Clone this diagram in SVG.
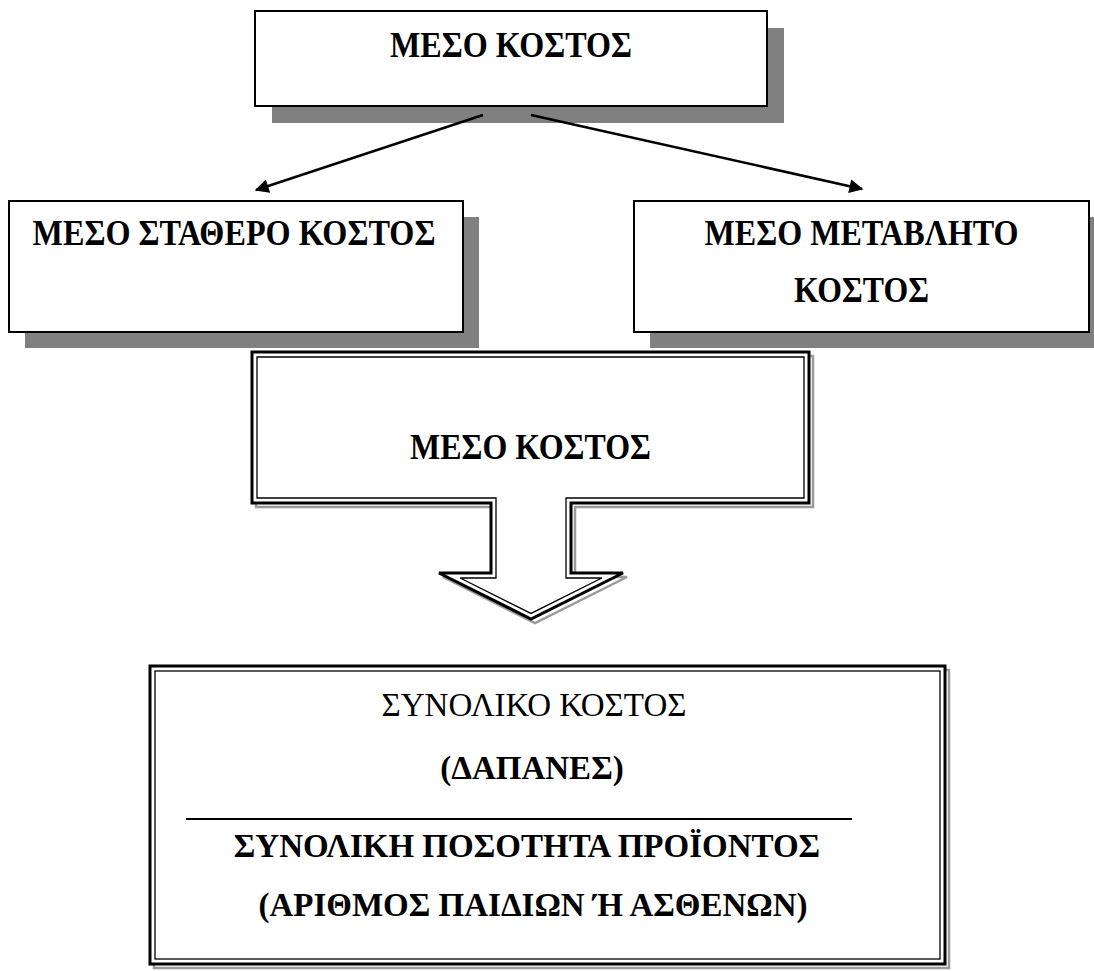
<svg xmlns="http://www.w3.org/2000/svg" width="1094" height="971" viewBox="0 0 1094 971">
  <style>
    .shadow { fill: #808080; }
    .box { fill: #ffffff; stroke: #000000; stroke-width: 2; }
    .lbl { font-family: "Liberation Serif", "Times New Roman", serif; font-size: 35px; font-weight: bold; fill: #000000; text-anchor: middle; }
    .small { font-size: 33px; }
    .plain { font-weight: normal; }
    .conn { stroke: #000000; stroke-width: 2.5; fill: none; }
    .dbl-shadow { fill: none; stroke: #9a9a9a; stroke-width: 2.5; }
    .dbl-outer { fill: #ffffff; stroke: #000000; stroke-width: 3; }
    .dbl-inner { fill: none; stroke: #000000; stroke-width: 1.3; }
  </style>
  <defs>
    <marker id="head" viewBox="0 0 10 10" refX="9" refY="5" markerWidth="18" markerHeight="14" markerUnits="userSpaceOnUse" orient="auto">
      <path d="M0 0 L10 5 L0 10 Z" fill="#000000"/>
    </marker>
  </defs>

  <rect width="1094" height="971" fill="#ffffff"/>

  <!-- top node -->
  <g id="avg-cost-top">
    <rect class="shadow" x="272" y="28" width="512" height="95"/>
    <rect class="box" x="255" y="11" width="512" height="95"/>
    <text class="lbl" x="511" y="57" textLength="242" lengthAdjust="spacingAndGlyphs">ΜΕΣΟ ΚΟΣΤΟΣ</text>
  </g>

  <!-- left node -->
  <g id="avg-fixed-cost">
    <rect class="shadow" x="25" y="217" width="454" height="131"/>
    <rect class="box" x="9" y="201" width="454" height="131"/>
    <text class="lbl" x="234" y="245" textLength="403" lengthAdjust="spacingAndGlyphs">ΜΕΣΟ ΣΤΑΘΕΡΟ ΚΟΣΤΟΣ</text>
  </g>

  <!-- right node -->
  <g id="avg-variable-cost">
    <rect class="shadow" x="650" y="217" width="455" height="131"/>
    <rect class="box" x="634" y="201" width="455" height="131"/>
    <text class="lbl" x="861.5" y="245" textLength="314" lengthAdjust="spacingAndGlyphs">ΜΕΣΟ ΜΕΤΑΒΛΗΤΟ</text>
    <text class="lbl" x="861.5" y="302" textLength="135" lengthAdjust="spacingAndGlyphs">ΚΟΣΤΟΣ</text>
  </g>

  <!-- connectors -->
  <g id="connectors">
    <line class="conn" x1="483" y1="115" x2="256" y2="190" marker-end="url(#head)"/>
    <line class="conn" x1="531" y1="115" x2="862" y2="189" marker-end="url(#head)"/>
  </g>

  <!-- block arrow callout -->
  <g id="avg-cost-arrow">
    <path class="dbl-shadow" transform="translate(4,4)" d="M252 352 H809 V503 H571 V573 H623 L531 619 L439 573 H491 V503 H252 Z"/>
    <path class="dbl-outer" d="M252 352 H809 V503 H571 V573 H623 L531 619 L439 573 H491 V503 H252 Z"/>
    <path class="dbl-inner" d="M257 357 H804 V498 H566 V578 H601.8 L531 613.4 L460.2 578 H496 V498 H257 Z"/>
    <text class="lbl" x="530.5" y="459" textLength="241" lengthAdjust="spacingAndGlyphs">ΜΕΣΟ ΚΟΣΤΟΣ</text>
  </g>

  <!-- formula box -->
  <g id="avg-cost-formula">
    <rect class="dbl-shadow" x="154" y="670" width="795" height="298"/>
    <rect class="dbl-outer" x="150" y="666" width="795" height="298"/>
    <rect class="dbl-inner" x="155" y="671" width="785" height="288"/>
    <text class="lbl small plain" x="534" y="716">ΣΥΝΟΛΙΚΟ ΚΟΣΤΟΣ</text>
    <text class="lbl small" x="532" y="779">(ΔΑΠΑΝΕΣ)</text>
    <line x1="186" y1="819" x2="852" y2="819" stroke="#000000" stroke-width="2"/>
    <text class="lbl small" x="527" y="857">ΣΥΝΟΛΙΚΗ ΠΟΣΟΤΗΤΑ ΠΡΟΪΟΝΤΟΣ</text>
    <text class="lbl small" x="533" y="916">(ΑΡΙΘΜΟΣ ΠΑΙΔΙΩΝ Ή ΑΣΘΕΝΩΝ)</text>
  </g>
</svg>
